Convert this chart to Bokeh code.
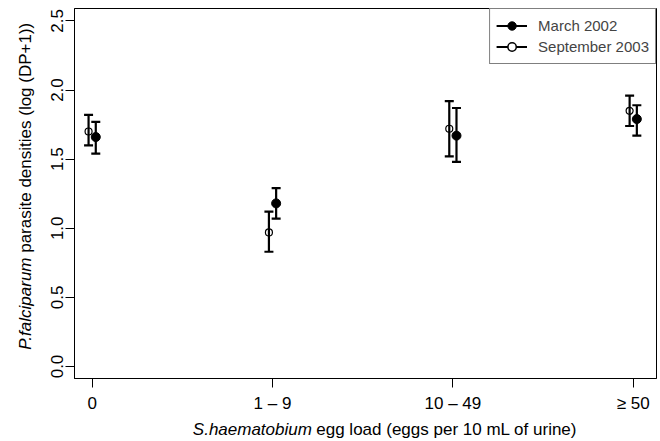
import math
import numpy as np
from bokeh.plotting import figure
from bokeh.layouts import row, column
from bokeh.models import (ColumnDataSource, Whisker, TeeHead, Legend, LegendItem,
                          FixedTicker, Range1d)
from bokeh.core.properties import value
from bokeh.embed import file_html
from bokeh.resources import INLINE

# ---- data ----
categories = ["0", "1 \u2013 9", "10 \u2013 49", "\u2265 50"]
positions = [1, 2, 3, 4]
march_mean = [1.66, 1.18, 1.67, 1.79]
march_lo = [1.54, 1.07, 1.48, 1.67]
march_hi = [1.77, 1.29, 1.87, 1.89]
sept_mean = [1.70, 0.97, 1.72, 1.85]
sept_lo = [1.60, 0.83, 1.52, 1.74]
sept_hi = [1.82, 1.12, 1.92, 1.96]
y_ticks = [0.0, 0.5, 1.0, 1.5, 2.0, 2.5]
series_labels = ["March 2002", "September 2003"]
x_title = ["S.haematobium", "egg load (eggs per 10 mL of urine)"]
y_title = ["P.falciparum", "parasite densities (log (DP+1))"]
offset = 0.02

FONT = "Liberation Sans"

# ---- main plot ----
p = figure(width=622, height=416, output_backend="svg", toolbar_location=None,
           x_range=Range1d(0.902, 4.129), y_range=Range1d(-0.087, 2.59),
           min_border_left=36, min_border_right=4, min_border_top=8,
           min_border_bottom=38)
p.title.visible = False
p.background_fill_color = "white"
p.border_fill_color = "white"
p.outline_line_color = "black"
p.outline_line_width = 1
p.xgrid.visible = False
p.ygrid.visible = False

for ax in (p.xaxis, p.yaxis):
    ax.axis_line_color = "black"
    ax.major_tick_line_color = "black"
    ax.minor_tick_line_color = None
    ax.major_tick_out = 9
    ax.major_tick_in = 0
    ax.major_label_text_font = FONT
    ax.major_label_text_font_size = "17px"
    ax.major_label_text_color = "black"

p.xaxis.ticker = FixedTicker(ticks=positions)
p.xaxis.major_label_overrides = {pos: lab for pos, lab in zip(positions, categories)}
p.xaxis.major_label_standoff = 6
p.yaxis.ticker = FixedTicker(ticks=y_ticks)
p.yaxis.major_label_overrides = {t: f"{t:.1f}" for t in y_ticks}
p.yaxis.major_label_orientation = "vertical"
p.yaxis.major_label_standoff = 2

xm = [x + offset for x in positions]
xs = [x - offset for x in positions]
src_m = ColumnDataSource(dict(x=xm, y=march_mean, lo=march_lo, hi=march_hi))
src_s = ColumnDataSource(dict(x=xs, y=sept_mean, lo=sept_lo, hi=sept_hi))

for src in (src_m, src_s):
    w = Whisker(source=src, base="x", lower="lo", upper="hi", dimension="height",
                line_color="black", line_width=2.2,
                upper_head=TeeHead(size=9, line_color="black", line_width=2.2),
                lower_head=TeeHead(size=9, line_color="black", line_width=2.2))
    p.add_layout(w)

p.scatter("x", "y", source=src_m, marker="circle", size=9,
          fill_color="black", line_color="black")
p.scatter("x", "y", source=src_s, marker="circle", size=7,
          fill_color=None, line_color="black", line_width=1.2)

# legend proxies (NaN data: nothing drawn in the plot area)
nan = np.array([np.nan])
lm = p.line(x=nan, y=nan, line_color="black", line_width=2)
pm = p.scatter(x=nan, y=nan, marker="circle", size=7.5, fill_color="black", line_color="black")
ls = p.line(x=nan, y=nan, line_color="black", line_width=2)
ps = p.scatter(x=nan, y=nan, marker="circle", size=6.5, fill_color="white",
               line_color="black", line_width=1.5)
legend = Legend(items=[LegendItem(label=series_labels[0], renderers=[lm, pm]),
                       LegendItem(label=series_labels[1], renderers=[ls, ps])],
                location="top_right", margin=0, padding=6, spacing=0,
                glyph_width=31, glyph_height=21, label_height=21,
                label_standoff=11, label_text_font=FONT,
                label_text_font_size="15px", border_line_color="black",
                border_line_width=1, background_fill_alpha=1)
p.add_layout(legend)

# ---- x title strip (frame == canvas, 1 unit == 1 px) ----
xt = figure(width=622, height=25, output_backend="svg", toolbar_location=None,
            x_range=Range1d(0, 622), y_range=Range1d(0, 25),
            x_axis_type=None, y_axis_type=None, min_border=0)
xt.title.visible = False
xt.outline_line_color = None
xt.grid.visible = False
split_x = 291.7 - 38
xt.text(x=[split_x], y=[12.5], text=[x_title[0]], text_font=value(FONT),
        text_font_size=value("17px"), text_font_style=value("italic"),
        text_align=value("right"), text_baseline=value("alphabetic"), text_color="black")
xt.text(x=[split_x + 4.7], y=[12.5], text=[x_title[1]], text_font=value(FONT),
        text_font_size=value("17px"), text_align=value("left"),
        text_baseline=value("alphabetic"), text_color="black")

# ---- y title strip ----
yt = figure(width=38, height=441, output_backend="svg", toolbar_location=None,
            x_range=Range1d(0, 38), y_range=Range1d(0, 441),
            x_axis_type=None, y_axis_type=None, min_border=0)
yt.title.visible = False
yt.outline_line_color = None
yt.grid.visible = False
split_y = 441 - 257.0
yt.text(x=[24.5], y=[split_y], text=[y_title[0]], text_font=value(FONT),
        text_font_size=value("17px"), text_font_style=value("italic"),
        text_align=value("right"), text_baseline=value("alphabetic"),
        angle=math.pi / 2, text_color="black")
yt.text(x=[24.5], y=[split_y + 4.7], text=[y_title[1]], text_font=value(FONT),
        text_font_size=value("17px"), text_align=value("left"),
        text_baseline=value("alphabetic"), angle=math.pi / 2, text_color="black")

layout = row(yt, column(p, xt, spacing=0), spacing=0)
open("out.html", "w").write(file_html(layout, INLINE))
